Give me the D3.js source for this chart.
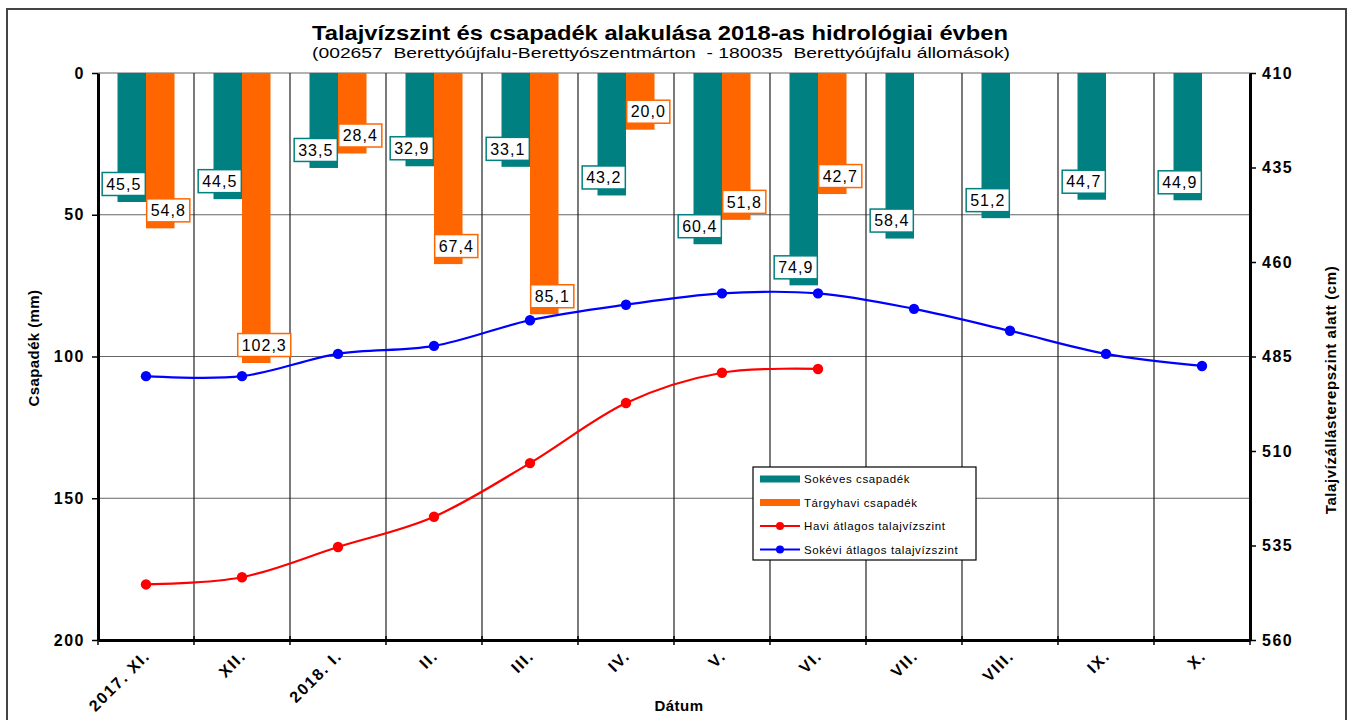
<!DOCTYPE html>
<html>
<head>
<meta charset="utf-8">
<script src="https://cdn.jsdelivr.net/npm/d3@7"></script>
<style>
  html, body { margin: 0; padding: 0; background: #fff; }
  svg { display: block; font-family: "Liberation Sans", Arial, sans-serif; }
</style>
</head>
<body>
<div id="chart"></div>
<script>
// talajvíz + csapadék, 2018-as hidrológiai év
var months = ["2017. XI.", "XII.", "2018. I.", "II.", "III.", "IV.", "V.", "VI.", "VII.", "VIII.", "IX.", "X."];
var sokevesCsap = [45.5, 44.5, 33.5, 32.9, 33.1, 43.2, 60.4, 74.9, 58.4, 51.2, 44.7, 44.9];
var targyhaviCsap = [54.8, 102.3, 28.4, 67.4, 85.1, 20.0, 51.8, 42.7, null, null, null, null];
var haviTalajviz = [545.3, 543.4, 535.4, 527.4, 513.2, 497.3, 489.3, 488.3, null, null, null, null];
var sokeviTalajviz = [490.2, 490.2, 484.3, 482.2, 475.4, 471.3, 468.3, 468.3, 472.4, 478.2, 484.3, 487.5];
var leftTicks = [0, 50, 100, 150, 200];
var rightTicks = [410, 435, 460, 485, 510, 535, 560];

var TEAL = "#008080", ORANGE = "#FF6600", RED = "#FF0000", BLUE = "#0000FF";
var W = 1356, H = 720;
var m = { l: 98, r: 1250, t: 73, b: 640 };

var svg = d3.select("#chart").append("svg").attr("width", W).attr("height", H);

// outer frame
svg.append("rect").attr("x", 7).attr("y", 9).attr("width", 1339).attr("height", 730)
  .attr("fill", "none").attr("stroke", "#444").attr("stroke-width", 2);

// titles
svg.append("text").attr("x", 660).attr("y", 40).attr("text-anchor", "middle")
  .attr("font-size", 21).attr("font-weight", "bold")
  .attr("textLength", 696).attr("lengthAdjust", "spacingAndGlyphs")
  .text("Talajvízszint és csapadék alakulása 2018-as hidrológiai évben");
svg.append("text").attr("x", 661).attr("y", 58).attr("text-anchor", "middle")
  .attr("font-size", 15).style("white-space", "pre")
  .attr("textLength", 698).attr("lengthAdjust", "spacingAndGlyphs")
  .text("(002657  Berettyóújfalu-Berettyószentmárton  - 180035  Berettyóújfalu állomások)");

var x = d3.scaleBand().domain(months).range([m.l, m.r]).padding(0);
var sub = d3.scaleBand().domain(["s", "t"]).range([0, 57]);
var off = (x.bandwidth() - 57) / 2;
var yL = d3.scaleLinear().domain([0, 200]).range([m.t, m.b]);
var yR = d3.scaleLinear().domain([410, 560]).range([m.t, m.b]);

// gridlines
svg.append("g").selectAll("line").data([0, 50, 100, 150]).join("line")
  .attr("x1", m.l).attr("x2", m.r).attr("y1", function (d) { return yL(d); }).attr("y2", function (d) { return yL(d); })
  .attr("stroke", "#666").attr("stroke-width", 1.2);
var bounds = months.map(function (c) { return x(c); }).slice(1);
svg.append("g").selectAll("line").data(bounds).join("line")
  .attr("x1", function (d) { return d; }).attr("x2", function (d) { return d; })
  .attr("y1", m.t).attr("y2", m.b).attr("stroke", "#222").attr("stroke-width", 1.2);

// bars
var bars = svg.append("g");
months.forEach(function (c, i) {
  bars.append("rect").attr("x", x(c) + off + sub("s")).attr("y", yL(0))
    .attr("width", sub.bandwidth()).attr("height", yL(sokevesCsap[i]) - yL(0)).attr("fill", TEAL);
  if (targyhaviCsap[i] != null) {
    bars.append("rect").attr("x", x(c) + off + sub("t")).attr("y", yL(0))
      .attr("width", sub.bandwidth()).attr("height", yL(targyhaviCsap[i]) - yL(0)).attr("fill", ORANGE);
  }
});

// smoothed lines
var curve = d3.curveCatmullRom.alpha(0);
function drawLine(vals, color) {
  var pts = [];
  vals.forEach(function (v, i) { if (v != null) pts.push([x(months[i]) + x.bandwidth() / 2, yR(v)]); });
  svg.append("path").attr("d", d3.line().curve(curve)(pts)).attr("fill", "none")
    .attr("stroke", color).attr("stroke-width", 2.2);
  svg.append("g").selectAll("circle").data(pts).join("circle")
    .attr("cx", function (p) { return p[0]; }).attr("cy", function (p) { return p[1]; })
    .attr("r", 5.2).attr("fill", color);
}
drawLine(sokeviTalajviz, BLUE);
drawLine(haviTalajviz, RED);

// value labels
var fmt = function (v) { return v.toFixed(1).replace(".", ","); };
function label(v, cx, color) {
  var g = svg.append("g");
  var t = g.append("text").attr("x", cx).attr("y", yL(v) - 18).attr("dy", "0.36em")
    .attr("text-anchor", "middle").attr("font-size", 16).attr("letter-spacing", 1).attr("fill", "#000").text(fmt(v));
  var bb = t.node().getBBox();
  g.insert("rect", "text").attr("x", bb.x - 4).attr("y", yL(v) - 18 - 11.5)
    .attr("width", bb.width + 8).attr("height", 23)
    .attr("fill", "#fff").attr("stroke", color).attr("stroke-width", 1.5);
}
months.forEach(function (c, i) {
  var bx = x(c) + off;
  label(sokevesCsap[i], bx + sub("s") + sub.bandwidth() / 2 - 8, TEAL);
  if (targyhaviCsap[i] != null) label(targyhaviCsap[i], bx + sub("t") + sub.bandwidth() / 2 + 8, ORANGE);
});

// axes
function styleAxis(g) {
  g.select(".domain").attr("stroke", "#000").attr("stroke-width", 3);
  g.selectAll(".tick line").attr("stroke", "#000").attr("stroke-width", 1.5);
  g.selectAll(".tick text").attr("font-size", 16).attr("font-weight", "bold").attr("letter-spacing", 1.5)
    .attr("font-family", "\"Liberation Sans\", Arial, sans-serif").attr("fill", "#000");
}
svg.append("g").attr("transform", "translate(" + m.l + ",0)")
  .call(d3.axisLeft(yL).tickValues(leftTicks).tickSize(6).tickSizeOuter(0).tickPadding(7)).call(styleAxis);
svg.append("g").attr("transform", "translate(" + m.r + ",0)")
  .call(d3.axisRight(yR).tickValues(rightTicks).tickSize(6).tickSizeOuter(0).tickPadding(6)).call(styleAxis);

var xAxis = svg.append("g").attr("transform", "translate(0," + m.b + ")")
  .call(d3.axisBottom(x).tickSize(0).tickSizeOuter(0).tickFormat(""));
xAxis.call(styleAxis);
xAxis.selectAll("line.bt").data(months.map(function (c) { return x(c); }).concat([m.r])).join("line")
  .attr("class", "bt").attr("x1", function (d) { return d; }).attr("x2", function (d) { return d; })
  .attr("y1", -4).attr("y2", 5).attr("stroke", "#000").attr("stroke-width", 1.5);
xAxis.selectAll("text.cat").data(months).join("text").attr("class", "cat")
  .attr("transform", function (c) { return "translate(" + (x(c) + x.bandwidth() / 2 - 3) + ",9) rotate(-45)"; })
  .attr("text-anchor", "end").attr("dy", "0.7em").attr("fill", "#000")
  .attr("font-size", 16).attr("font-weight", "bold").attr("letter-spacing", 1.6).text(function (c) { return c; });

// axis titles
svg.append("text").attr("x", 679).attr("y", 711).attr("text-anchor", "middle")
  .attr("font-size", 15).attr("font-weight", "bold").attr("letter-spacing", 0.5).text("Dátum");
svg.append("text").attr("transform", "translate(39,348) rotate(-90)").attr("text-anchor", "middle")
  .attr("font-size", 15).attr("font-weight", "bold").attr("letter-spacing", 0.4).text("Csapadék (mm)");
svg.append("text").attr("transform", "translate(1336,390) rotate(-90)").attr("text-anchor", "middle")
  .attr("font-size", 15).attr("font-weight", "bold").attr("letter-spacing", 0.6).text("Talajvízállásterepszint alatt (cm)");

// legend
var lg = svg.append("g").attr("transform", "translate(753,467)");
lg.append("rect").attr("width", 223).attr("height", 93).attr("fill", "#fff").attr("stroke", "#000").attr("stroke-width", 1.2);
var items = [
  { name: "Sokéves csapadék", color: TEAL, kind: "bar" },
  { name: "Tárgyhavi csapadék", color: ORANGE, kind: "bar" },
  { name: "Havi átlagos talajvízszint", color: RED, kind: "line" },
  { name: "Sokévi átlagos talajvízszint", color: BLUE, kind: "line" }
];
items.forEach(function (it, i) {
  var yy = 12 + i * 23.5;
  if (it.kind === "bar") {
    lg.append("rect").attr("x", 7).attr("y", yy - 3.5).attr("width", 40).attr("height", 7).attr("fill", it.color);
  } else {
    lg.append("line").attr("x1", 7).attr("x2", 47).attr("y1", yy).attr("y2", yy).attr("stroke", it.color).attr("stroke-width", 2);
    lg.append("circle").attr("cx", 27).attr("cy", yy).attr("r", 4).attr("fill", it.color);
  }
  lg.append("text").attr("x", 51).attr("y", yy).attr("dy", "0.35em").attr("font-size", 11.5)
    .attr("letter-spacing", 0.6).text(it.name);
});
</script>
</body>
</html>
